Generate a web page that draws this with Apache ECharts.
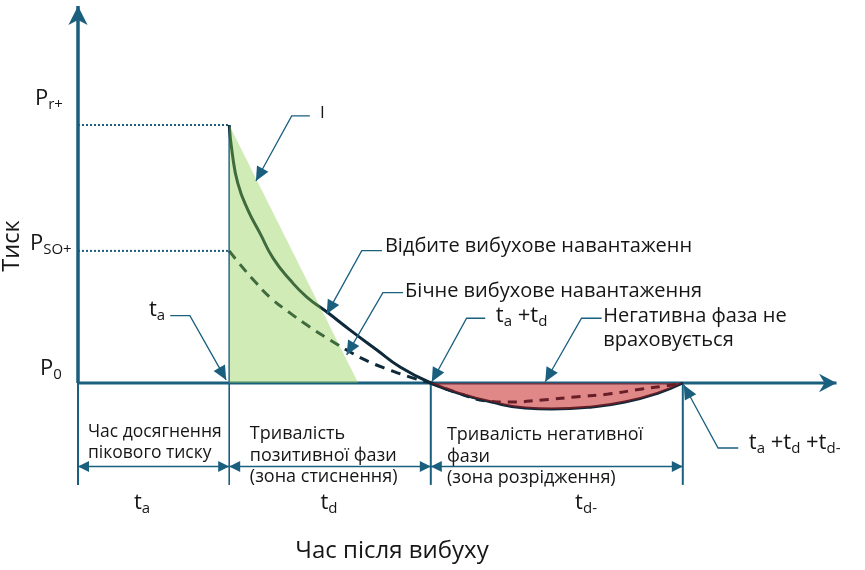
<!DOCTYPE html>
<html><head><meta charset="utf-8">
<script src="https://cdn.jsdelivr.net/npm/echarts@6/dist/echarts.min.js"></script>
<style>html,body{margin:0;padding:0;background:#fff}#c{width:865px;height:570px}</style>
</head><body><div id="c"></div>
<script>
// ---- phase boundaries (time units) and pressure levels ----
const tA = 3;            // time of arrival
const tD = 4;            // positive phase duration
const tDn = 5;           // negative phase duration
const pR = 10;           // peak reflected pressure Pr+
const pSO = 5.12;        // peak side-on pressure Pso+

// ---- pressure-time curves [time, pressure] ----
const reflected = [[3,10],[3.06,8.91],[3.17,7.75],[3.37,6.71],[3.61,5.81],[3.87,4.84],[4.21,3.99],[4.54,3.33],[4.94,2.75],[5.40,2.05],[5.93,1.28],[6.39,0.62],[7,0]];
const sideOn = [[3,5.12],[3.21,4.61],[3.51,3.93],[3.81,3.32],[4.21,2.71],[4.60,2.17],[5.00,1.67],[5.40,1.20],[5.79,0.81],[6.19,0.50],[6.59,0.23],[7,0]];
const negSolid = [[7,0],[7.54,-0.39],[8.21,-0.74],[8.87,-0.97],[9.40,-1.01],[10.20,-0.93],[10.85,-0.74],[11.51,-0.39],[12,0]];
const negDashed = [[7,0],[7.54,-0.39],[8.13,-0.70],[8.53,-0.74],[9.21,-0.66],[9.86,-0.54],[10.52,-0.43],[11.19,-0.23],[11.79,-0.08],[12,0]];
const impulse = [[3,10],[5.56,0]];

// ---- tick-like labels ----
const pLabels = ['{m|P}{s|r+}', '{m|P}{s|SO+}', '{m|P}{s|0}'];
const tLabels = ['{m|t}{s|a}', '{m|t}{s|d}', '{m|t}{s|d-}'];

// ---- layout of the sketch (data units) ----
const X_TIP = 15.05, Y_TIP = 14.61, Y_BOT = -3.95, Y_DIM = -3.24;
const AX = '#1b5f7f', INK = '#161616', CURVE = '#0e2a3a';
const FONT = '"Open Sans", "Noto Sans", sans-serif';

const leaders = [
  [[4.60,10.35],[4.24,10.35],[3.53,7.83]],
  [[6.03,5.13],[5.63,5.13],[4.935,2.67]],
  [[6.45,3.50],[6.05,3.50],[5.33,1.09]],
  [[8.08,2.51],[7.71,2.51],[7.02,0.05]],
  [[10.39,2.51],[9.99,2.51],[9.27,0.05]],
  [[1.83,2.61],[2.22,2.61],[2.94,0.12]],
  [[13.10,-2.52],[12.70,-2.52],[12.02,-0.08]]
];

const rich = {
  m: {fontSize: 22, fontFamily: FONT, fill: INK, color: INK, lineHeight: 27},
  s: {fontSize: 15, fontFamily: FONT, fill: INK, color: INK, lineHeight: 15, verticalAlign: 'bottom'}
};

const texts = [
  {p:[4.80,10.47], t:'I', fs:17, al:'left'},
  {p:[6.09,5.28], t:'Відбите вибухове навантаженн', fs:20, al:'left'},
  {p:[6.49,3.54], t:'Бічне вибухове навантаження', fs:20, al:'left'},
  {p:[10.42,2.12], t:'Негативна фаза не\nвраховується', fs:20, al:'left', lh:23.5},
  {p:[0.198,-2.31], t:'Час досягнення\nпікового тиску', fs:17.5, al:'left', lh:21.7},
  {p:[3.41,-2.81], t:'Тривалість\nпозитивної фази\n(зона стиснення)', fs:18, al:'left', lh:21.5},
  {p:[7.32,-2.85], t:'Тривалість негативної\nфази\n(зона розрідження)', fs:18, al:'left', lh:21.5},
  {p:[6.23,-6.5], t:'Час після вибуху', fs:24, al:'center'},
  {p:[-1.30,5.31], t:'Тиск', fs:23.5, al:'center', rot:Math.PI/2},
  {p:[-0.30,11.03], t:pLabels[0], al:'right', r:true},
  {p:[-0.125,5.39], t:pLabels[1], al:'right', r:true},
  {p:[-0.32,0.56], t:pLabels[2], al:'right', r:true},
  {p:[1.73,2.83], t:tLabels[0], al:'right', r:true},
  {p:[8.29,2.60], t:'{m|t}{s|a}{m| +t}{s|d}', al:'left', r:true},
  {p:[13.31,-2.33], t:'{m|t}{s|a}{m| +t}{s|d}{m| +t}{s|d-}', al:'left', r:true},
  {p:[1.27,-4.65], t:tLabels[0], al:'center', r:true},
  {p:[4.98,-4.65], t:tLabels[1], al:'center', r:true},
  {p:[10.08,-4.65], t:tLabels[2], al:'center', r:true}
];

function head(p0, p1, L, W, notch) {
  const dx = p1[0]-p0[0], dy = p1[1]-p0[1], n = Math.hypot(dx,dy)||1;
  const ux = dx/n, uy = dy/n, px = -uy, py = ux;
  const bx = p1[0]-ux*L, by = p1[1]-uy*L;
  const pts = [[p1[0],p1[1]],[bx+px*W,by+py*W]];
  if (notch) pts.push([p1[0]-ux*notch, p1[1]-uy*notch]);
  pts.push([bx-px*W,by-py*W]);
  return {type:'polygon', shape:{points:pts}, style:{fill:AX, stroke:null}};
}

function renderBack(params, api) {
  const c = p => api.coord(p);
  const kids = [];
  const line = (pts, w, dash) => kids.push({type:'polyline', shape:{points:pts.map(c)},
    style:{stroke:AX, lineWidth:w, lineDash:dash||null, fill:null}});
  const end = tA + tD + tDn;
  line([[0,pR],[tA,pR]], 2, [2,2]);
  line([[0,pSO],[tA,pSO]], 2, [2,2]);
  line([[0,Y_BOT],[0,0]], 2);
  line([[0,0],[0,Y_TIP]], 3.5);
  line([[0,0],[X_TIP,0]], 3);
  line([[tA,pR],[tA,Y_BOT]], 1.6);
  line([[tA+tD,0],[tA+tD,Y_BOT]], 2);
  line([[end,0],[end,Y_BOT]], 2);
  kids.push(head(c([0,0]), c([0,Y_TIP]), 19, 9.6, 14));
  kids.push(head(c([0,0]), c([X_TIP,0]), 17.5, 9.3, 12));
  return {type:'group', children:kids};
}

function renderFront(params, api) {
  const c = p => api.coord(p);
  const kids = [];
  const end = tA + tD + tDn;
  leaders.forEach(L => {
    const pts = L.map(c);
    kids.push({type:'polyline', shape:{points:pts}, style:{stroke:AX, lineWidth:1.3, fill:null}});
    kids.push(head(pts[pts.length-2], pts[pts.length-1], 14, 6.5));
  });
  [[0,tA],[tA,tA+tD],[tA+tD,end]].forEach(([a,b]) => {
    const p0 = c([a,Y_DIM]), p1 = c([b,Y_DIM]);
    kids.push({type:'polyline', shape:{points:[p0,p1]}, style:{stroke:AX, lineWidth:1.5, fill:null}});
    kids.push(head(p1, p0, 11, 5.5));
    kids.push(head(p0, p1, 11, 5.5));
  });
  texts.forEach(T => {
    const p = c(T.p);
    const st = {text:T.t, fill:INK, align:T.al, verticalAlign:'middle', fontFamily:FONT};
    if (T.r) { st.rich = rich; st.fontSize = 22; }
    else { st.fontSize = T.fs; if (T.lh) st.lineHeight = T.lh; }
    kids.push({type:'text', x:p[0], y:p[1], rotation:T.rot||0, style:st});
  });
  return {type:'group', children:kids};
}

const chart = echarts.init(document.getElementById('c'));
chart.setOption({
  animation: false,
  grid: {left:78, top:8.9, width:756, height:554.7},
  xAxis: {type:'value', min:0, max:15, show:false},
  yAxis: {type:'value', min:-7, max:14.5, show:false},
  series: [
    {type:'custom', z:1, silent:true, clip:false, renderItem:renderBack, data:[[0,0]]},
    {type:'line', z:2, data:reflected, smooth:0.5, symbol:'none', lineStyle:{color:CURVE, width:3}},
    {type:'line', z:2, data:sideOn, smooth:0.5, symbol:'none', lineStyle:{color:CURVE, width:3, type:[10,7]}},
    {type:'line', z:2, data:negSolid, smooth:0.5, symbol:'none', lineStyle:{color:CURVE, width:3}},
    {type:'line', z:2, data:negDashed, smooth:0.5, symbol:'none', lineStyle:{color:CURVE, width:3, type:[9,7]}},
    {type:'line', z:3, data:impulse, symbol:'none', lineStyle:{opacity:0, width:0}, areaStyle:{color:'#8acd46', opacity:0.4}},
    {type:'line', z:3, data:negSolid, smooth:0.5, symbol:'none', lineStyle:{opacity:0, width:0}, areaStyle:{color:'#c11111', opacity:0.5}},
    {type:'custom', z:5, silent:true, clip:false, renderItem:renderFront, data:[[0,0]]}
  ]
});
</script>
</body></html>
